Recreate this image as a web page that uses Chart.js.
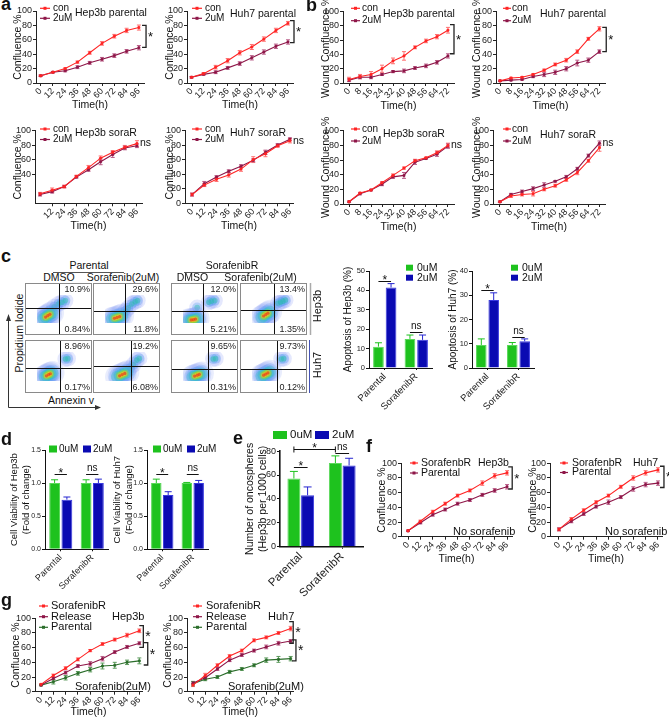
<!DOCTYPE html>
<html>
<head>
<meta charset="utf-8">
<title>Sorafenib resistance figure</title>
<script src="https://cdn.jsdelivr.net/npm/chart.js@4.4.1/dist/chart.umd.min.js"></script>
<style>
  html, body { margin: 0; padding: 0; background: #fff; }
  #fig { position: relative; width: 669px; height: 717px; overflow: hidden; background: #fff;
         font-family: "Liberation Sans", Arial, Helvetica, sans-serif; color: #111; }
  #fig canvas { position: absolute; }
  #deco { position: absolute; left: 0; top: 0; }
</style>
</head>
<body>
<div id="fig">
  <svg id="deco" width="669" height="717">
    <line x1="53" y1="272.5" x2="124" y2="272.5" stroke="#555" stroke-width="1"/>
    <line x1="184" y1="272.5" x2="263" y2="272.5" stroke="#555" stroke-width="1"/>
    <line x1="310.5" y1="283" x2="310.5" y2="335" stroke="#aaa" stroke-width="1.5"/>
    <line x1="309.5" y1="340" x2="309.5" y2="393" stroke="#4654b4" stroke-width="1"/>
    <path d="M8.5 407.5 V318 M8.5 407.5 H96" stroke="#333" stroke-width="1" fill="none"/>
    <path d="M6 321 L8.5 314 L11 321 Z M95 405 L101 407.5 L95 410 Z" fill="#333"/>
  </svg>
</div>
<script>
// time axes (hours)
const hours = [0, 12, 24, 36, 48, 60, 72, 84, 96];
const hoursNoZero = [12, 24, 36, 48, 60, 72, 84, 96];
const woundHours = [0, 8, 16, 24, 32, 40, 48, 56, 64, 72];
const pctTicks = [0, 20, 40, 60, 80, 100];
const pctTicksUpper = [40, 60, 80, 100];

// panel a: confluence %, con vs 2uM
const aHep3bParCon = [10, 15, 20, 29, 42, 55, 65, 73, 77];
const aHep3bParConErr = [1, 1, 1, 1.5, 2, 2.5, 2.5, 3, 3.5];
const aHep3bParDrug = [10, 15, 17, 22, 28, 33, 38, 44, 49];
const aHep3bParDrugErr = [1, 1, 1.5, 2, 2, 2.5, 2.5, 2.5, 3];
const aHuh7ParCon = [8, 13, 22, 31, 42, 50, 61, 73, 83];
const aHuh7ParConErr = [1, 1.5, 2.5, 3, 3, 3.5, 3, 3, 2.5];
const aHuh7ParDrug = [8, 12, 15, 21, 27, 35, 43, 51, 57];
const aHuh7ParDrugErr = [1, 1, 2, 2, 2.5, 3, 3, 3, 3];
const aHep3bSorCon = [13, 18, 23, 37, 49, 62, 70, 77, 82];
const aHep3bSorConErr = [2, 3, 2, 1.5, 3, 3, 2.5, 2.5, 4];
const aHep3bSorDrug = [12, 16, 23, 36, 46, 57, 67, 76, 79];
const aHep3bSorDrugErr = [2, 2, 1.5, 1.5, 2, 4, 4, 2.5, 2.5];
const aHuh7SorCon = [12, 25, 33, 39, 47, 60, 68, 79, 86];
const aHuh7SorConErr = [2, 2, 3, 3, 3, 4, 4, 2, 3];
const aHuh7SorDrug = [12, 27, 36, 44, 51, 59, 70, 80, 88];
const aHuh7SorDrugErr = [2, 3, 2, 2, 2, 2, 3, 2, 2];

// panel b: wound confluence %
const bHep3bParCon = [5, 9, 12, 20, 31, 38, 50, 59, 65, 74];
const bHep3bParConErr = [3, 3, 4, 5, 4, 6, 2, 2.5, 3, 4];
const bHep3bParDrug = [4, 8, 8, 12, 16, 17, 21, 24, 29, 38];
const bHep3bParDrugErr = [2, 2, 2, 1.5, 1.5, 2.5, 2, 2.5, 2.5, 3];
const bHuh7ParCon = [3, 7, 8, 12, 18, 26, 32, 44, 62, 76];
const bHuh7ParConErr = [1, 1, 1, 1, 1.5, 2, 2.5, 2.5, 2, 3];
const bHuh7ParDrug = [3, 4, 5, 9, 12, 15, 20, 28, 32, 44];
const bHuh7ParDrugErr = [1, 1, 1, 1.5, 3, 3, 3, 4, 3, 2.5];
const bHep3bSorCon = [3, 15, 19, 29, 39, 49, 59, 63, 70, 80];
const bHep3bSorConErr = [1, 1, 1, 1.5, 2, 1.5, 2, 1, 2.5, 3];
const bHep3bSorDrug = [3, 14, 19, 27, 37, 39, 57, 62, 68, 79];
const bHep3bSorDrugErr = [1, 1.5, 1, 2, 2, 4, 3, 1, 3, 3];
const bHuh7SorCon = [3, 11, 13, 14, 20, 25, 33, 43, 59, 77];
const bHuh7SorConErr = [1, 2, 2, 3, 2, 2, 2, 3, 2, 5];
const bHuh7SorDrug = [3, 13, 17, 21, 26, 31, 37, 48, 66, 83];
const bHuh7SorDrugErr = [1, 1.5, 2, 2.5, 3, 1, 2, 2, 2, 3];

// panel c: apoptosis (%)
const groups = ['Parental', 'SorafenibR'];
const apoHep3b0 = [11, 15];
const apoHep3b0Err = [2, 2];
const apoHep3b2 = [41.5, 14.5];
const apoHep3b2Err = [2, 2.5];
const apoHuh7_0 = [9.5, 9.5];
const apoHuh7_0Err = [2.5, 1];
const apoHuh7_2 = [28, 11];
const apoHuh7_2Err = [3, 1];

// panel c: flow cytometry quadrants (Hep3b row then Huh7 row)
const flowUpperPct = ['10.9%', '29.6%', '12.0%', '13.4%', '8.96%', '19.2%', '9.65%', '9.73%'];
const flowLowerPct = ['0.84%', '11.8%', '5.21%', '1.35%', '0.17%', '6.08%', '0.31%', '0.12%'];
const flowGateX = [51.5, 46, 46, 52, 53, 60, 58, 58];
const flowGateY = [52, 42, 42, 46, 45, 53, 43, 43];
// live-cell cluster (Annexin-/PI-), traced along its long axis
const flowLive = [
  [[15, 16], [20, 21], [25, 26], [30, 31], [35, 36]],
  [[16, 14], [22, 17], [28, 20], [34, 23], [40, 27]],
  [[14, 10], [19, 11], [24, 12], [29, 14], [34, 16]],
  [[22, 20], [27, 25], [32, 30], [37, 35], [42, 40]],
  [[18, 15], [22, 18], [27, 22], [31, 25], [36, 28]],
  [[28, 15], [34, 18], [40, 22], [46, 26], [52, 30]],
  [[22, 14], [27, 17], [33, 20], [38, 23], [44, 26]],
  [[22, 16], [27, 20], [32, 24], [37, 28], [42, 32]]
];
// dead / late apoptotic cluster (Annexin+/PI+)
const flowDead = [
  [[40, 58], [50, 68], [58, 74], [66, 80]],
  [[48, 44], [54, 54], [62, 68], [70, 76], [76, 80]],
  [[33, 55], [60, 74], [66, 78], [74, 80]],
  [[60, 70], [66, 74], [72, 78], [78, 82]],
  [[66, 76], [72, 77]],
  [[58, 44], [66, 56], [74, 72], [80, 78]],
  [[70, 76], [76, 77]],
  [[68, 76], [74, 77]]
];

// panel d: cell viability (fold of change)
const viaHep3b0 = [1.0, 1.0];
const viaHep3b0Err = [0.05, 0.05];
const viaHep3b2 = [0.75, 1.0];
const viaHep3b2Err = [0.04, 0.06];
const viaHuh7_0 = [1.0, 1.0];
const viaHuh7_0Err = [0.06, 0.01];
const viaHuh7_2 = [0.82, 1.0];
const viaHuh7_2Err = [0.05, 0.04];

// panel e: oncospheres per 1000 cells
const sphere0 = [57, 70];
const sphere0Err = [6, 6];
const sphere2 = [43, 68];
const sphere2Err = [7, 6];

// panel f: no sorafenib
const fHep3bSor = [8, 21, 34, 45, 56, 63, 73, 83, 87];
const fHep3bSorErr = [1, 1.5, 2, 2, 2, 2, 3, 3, 3];
const fHep3bPar = [8, 19, 30, 37, 45, 50, 57, 63, 68];
const fHep3bParErr = [1, 1.5, 2, 2, 2, 2, 2, 2.5, 3];
const fHuh7Sor = [10, 24, 36, 47, 56, 68, 80, 87, 91];
const fHuh7SorErr = [2, 2, 2, 2, 2, 2, 3, 3, 3];
const fHuh7Par = [10, 21, 31, 41, 47, 54, 65, 71, 73];
const fHuh7ParErr = [2, 2, 2, 2, 3, 2, 3, 3, 3];

// panel g: sorafenib 2uM
const gHep3bSor = [10, 22, 32, 44, 56, 65, 71, 77, 83];
const gHep3bSorErr = [1, 2, 2, 2, 1.5, 2, 2, 2.5, 2.5];
const gHep3bRel = [9, 18, 26, 35, 38, 45, 54, 61, 66];
const gHep3bRelErr = [1, 2, 2, 2, 3, 3, 2, 2, 2];
const gHep3bPar = [9, 13.5, 19, 25, 30, 35, 36, 40, 42];
const gHep3bParErr = [1, 3, 3, 2.5, 3, 4, 4, 3, 4];
const gHuh7Sor = [9, 22, 36, 48.5, 56, 70, 74, 80, 86];
const gHuh7SorErr = [2, 3, 2, 2, 2, 2, 2, 2, 3];
const gHuh7Rel = [12, 19, 31, 43, 50, 56, 61, 66, 69];
const gHuh7RelErr = [2, 2, 2, 2, 2, 2, 2.5, 2.5, 2];
const gHuh7Par = [11, 17, 20, 27, 31, 36, 43, 44, 45];
const gHuh7ParErr = [3, 2, 2, 2, 2, 2, 3, 4, 3];

// ---------------- styling / helpers ----------------
const FONT = '"Liberation Sans", Arial, Helvetica, sans-serif';
const RED = '#ff2424', PLUM = '#8e1648', DKGREEN = '#2b6e2b';
const RED_E = '#ff7070', PLUM_E = '#b85a86', DKGREEN_E = '#5c9a5c';
const GREEN = '#1ec21e', BLUE = '#0a0ab2';
Chart.defaults.font.family = FONT;
Chart.defaults.color = '#222';

const fig = document.getElementById('fig');

function canvasAt(x, y, w, h) {
  const c = document.createElement('canvas');
  c.width = w; c.height = h;
  c.style.left = x + 'px'; c.style.top = y + 'px';
  c.style.width = w + 'px'; c.style.height = h + 'px';
  fig.appendChild(c);
  return c;
}

function addText(t, x, y, o = {}) {
  const d = document.createElement('div');
  d.textContent = t;
  const tx = o.center ? '-50%' : '0';
  d.style.cssText = 'position:absolute;left:' + x + 'px;top:' + y + 'px;font-size:' + (o.size || 10.5) +
    'px;line-height:1;white-space:nowrap;font-weight:' + (o.bold ? 'bold' : 'normal') +
    ';transform:translate(' + tx + ',-50%)' + (o.rot ? ' rotate(' + o.rot + 'deg)' : '') + ';';
  fig.appendChild(d);
}

// error bars, legends, brackets and labels
const extras = {
  id: 'extras',
  beforeDatasetsDraw(chart, args, o) {
    const ctx = chart.ctx, ys = chart.scales.y;
    const isBar = chart.config.type === 'bar';
    ctx.save();
    ctx.lineWidth = 1;
    chart.data.datasets.forEach((ds, di) => {
      if (!ds.err) return;
      const meta = chart.getDatasetMeta(di);
      ctx.strokeStyle = ds.errColor || ds.borderColor;
      meta.data.forEach((el, i) => {
        const raw = ds.data[i];
        const v = typeof raw === 'object' ? raw.y : raw;
        const e = ds.err[i];
        const yT = ys.getPixelForValue(v + e);
        const yB = isBar ? el.y : ys.getPixelForValue(v - e);
        const c = isBar ? (o.cap || 3.5) : 2;
        ctx.beginPath();
        ctx.moveTo(el.x, yT); ctx.lineTo(el.x, yB);
        ctx.moveTo(el.x - c, yT); ctx.lineTo(el.x + c, yT);
        if (!isBar) { ctx.moveTo(el.x - c, yB); ctx.lineTo(el.x + c, yB); }
        ctx.stroke();
      });
    });
    ctx.restore();
  },
  afterDraw(chart, args, o) {
    const ctx = chart.ctx, ox = o.ox, oy = o.oy;
    const xs = chart.scales.x, ys = chart.scales.y;
    const font = s => s + 'px ' + FONT;
    ctx.save();
    ctx.textBaseline = 'middle';
    (o.texts || []).forEach(t => {
      ctx.font = font(t.size || 10.5);
      ctx.fillStyle = '#111';
      ctx.textAlign = t.align || 'left';
      ctx.fillText(t.t, t.x - ox, t.y - oy);
    });
    if (o.lineLegend) {
      const L = o.lineLegend;
      chart.data.datasets.forEach((ds, i) => {
        const y = L.ys[i] - oy, x = L.x - ox;
        ctx.strokeStyle = ds.borderColor; ctx.lineWidth = 1.2;
        ctx.beginPath(); ctx.moveTo(x, y); ctx.lineTo(x + L.len, y); ctx.stroke();
        ctx.fillStyle = ds.borderColor;
        ctx.fillRect(x + L.len / 2 - 1.5, y - 1.5, 3, 3);
        ctx.fillStyle = '#111'; ctx.font = font(L.size); ctx.textAlign = 'left';
        ctx.fillText(ds.label, L.tx - ox, y);
      });
    }
    if (o.boxLegend) {
      const B = o.boxLegend;
      chart.data.datasets.forEach((ds, i) => {
        const it = B.items[i];
        ctx.fillStyle = ds.backgroundColor;
        ctx.fillRect(it.x - ox, it.y - oy - B.h / 2, B.w, B.h);
        ctx.fillStyle = '#111'; ctx.font = font(B.size); ctx.textAlign = 'left';
        ctx.fillText(ds.label, it.tx - ox, it.y - oy);
      });
    }
    (o.brackets || []).forEach(b => {
      const x = xs.getPixelForValue(b.x), y1 = ys.getPixelForValue(b.y1), y2 = ys.getPixelForValue(b.y2);
      ctx.strokeStyle = '#222'; ctx.lineWidth = 1.3;
      ctx.beginPath();
      ctx.moveTo(x - 4, y1); ctx.lineTo(x, y1); ctx.lineTo(x, y2); ctx.lineTo(x - 4, y2);
      ctx.stroke();
      ctx.fillStyle = '#111'; ctx.font = font(b.size || 13); ctx.textAlign = 'left';
      ctx.fillText(b.t, x + 2, (y1 + y2) / 2 + 1);
    });
    (o.tags || []).forEach(t => {
      ctx.fillStyle = '#111'; ctx.font = font(t.size || 10.5); ctx.textAlign = 'left';
      ctx.fillText(t.t, xs.getPixelForValue(t.x) + t.dx, ys.getPixelForValue(t.y));
    });
    (o.sigs || []).forEach(s => {
      const xa = chart.getDatasetMeta(s.a[0]).data[s.a[1]].x;
      const xb = chart.getDatasetMeta(s.b[0]).data[s.b[1]].x;
      const y = Math.round(ys.getPixelForValue(s.y)) + 0.5;
      ctx.strokeStyle = '#111'; ctx.lineWidth = 1;
      ctx.beginPath(); ctx.moveTo(xa, y); ctx.lineTo(xb, y);
      if (s.ends) { ctx.moveTo(xa, y - 3); ctx.lineTo(xa, y + 3); ctx.moveTo(xb, y - 3); ctx.lineTo(xb, y + 3); }
      ctx.stroke();
      ctx.fillStyle = '#111'; ctx.textAlign = 'center';
      if (s.t === '*') { ctx.font = font(s.size || 12); ctx.fillText('*', (xa + xb) / 2, y - 1); }
      else { ctx.font = font(s.size || 10); ctx.fillText(s.t, (xa + xb) / 2, y - 6); }
    });
    ctx.restore();
  }
};

function lineChart(g) {
  const left = Math.round(g.cl), top = Math.round(g.yTop - 20);
  const right = Math.round(g.x1 + 24), bottom = Math.round(g.cb + 1.5);
  const cv = canvasAt(left, top, right - left, bottom - top);
  return new Chart(cv, {
    type: 'line',
    data: {
      datasets: g.series.map(s => ({
        label: s.label,
        data: g.xs.map((x, i) => ({ x: x, y: s.ys[i] })),
        err: s.err, errColor: s.errColor,
        borderColor: s.color, backgroundColor: s.color,
        borderWidth: 1.1, pointStyle: 'rect', pointRadius: 1.4, pointBorderWidth: 0.8, tension: 0
      }))
    },
    options: {
      responsive: false, animation: false, events: [],
      layout: { padding: { left: 0, top: g.yTop - top, right: right - g.x1, bottom: 0 } },
      plugins: {
        legend: { display: false }, tooltip: { enabled: false },
        extras: { ox: left, oy: top, texts: g.texts, lineLegend: g.legend, brackets: g.brackets, tags: g.tags }
      },
      scales: {
        x: {
          type: 'linear', min: g.xMin, max: g.xMax,
          afterBuildTicks: s => { s.ticks = g.xTicks.map(v => ({ value: v })); },
          afterFit: s => { s.height = bottom - g.yBot; },
          border: { color: '#222', width: 1 },
          grid: { drawOnChartArea: false, tickLength: 3, color: '#222' },
          ticks: { minRotation: 45, maxRotation: 45, autoSkip: false, padding: 0, color: '#222', font: { size: 9 } },
          title: { display: true, text: 'Time(h)', color: '#111', font: { size: 10.5 }, padding: 0 }
        },
        y: {
          min: 0, max: 100,
          afterBuildTicks: s => { s.ticks = g.yTicks.map(v => ({ value: v })); },
          afterFit: s => { s.width = g.x0 - left; },
          border: { color: '#222', width: 1 },
          grid: { drawOnChartArea: false, tickLength: 3, color: '#222' },
          ticks: { padding: 1, color: '#222', font: { size: 9 } },
          title: { display: true, text: g.yTitle, color: '#111', font: { size: 10.5 }, padding: 0 }
        }
      }
    },
    plugins: [extras]
  });
}

function barChart(g) {
  const left = Math.round(g.cl), top = Math.round(g.yTop - 24);
  const right = Math.round(g.x1 + 34), bottom = Math.round(g.cb);
  const cv = canvasAt(left, top, right - left, bottom - top);
  return new Chart(cv, {
    type: 'bar',
    data: {
      labels: groups,
      datasets: g.series.map(s => ({
        label: s.label, data: s.ys, err: s.err, errColor: s.errColor,
        backgroundColor: s.color, borderColor: s.border, borderWidth: 1,
        categoryPercentage: g.catPct, barPercentage: g.barPct
      }))
    },
    options: {
      responsive: false, animation: false, events: [],
      layout: { padding: { left: 0, top: g.yTop - top, right: right - g.x1, bottom: 0 } },
      plugins: {
        legend: { display: false }, tooltip: { enabled: false },
        extras: { ox: left, oy: top, boxLegend: g.legend, sigs: g.sigs, cap: g.cap }
      },
      scales: {
        x: {
          type: 'category', offset: true,
          afterFit: s => { s.height = bottom - g.yBot; },
          border: { color: '#111', width: g.axisW || 1 },
          grid: { offset: false, drawOnChartArea: false, tickLength: 2, color: '#111' },
          ticks: { minRotation: 45, maxRotation: 45, autoSkip: false, padding: 1, color: '#222', font: { size: g.xTickSize } }
        },
        y: {
          min: 0, max: g.yTicks[g.yTicks.length - 1],
          afterBuildTicks: s => { s.ticks = g.yTicks.map(v => ({ value: v })); },
          afterFit: s => { s.width = g.x0 - left; },
          border: { color: '#111', width: g.axisW || 1 },
          grid: { drawOnChartArea: false, tickLength: 3, color: '#111' },
          ticks: { padding: 1, color: '#222', font: { size: g.yTickSize }, callback: g.yFmt || (v => String(v)) },
          title: { display: true, text: g.yTitle, color: '#111', font: { size: g.titleSize }, padding: 0 }
        }
      }
    },
    plugins: [extras]
  });
}

// flow cytometry boxes
const flowDeco = {
  id: 'flowDeco',
  afterDraw(chart, args, o) {
    const { ctx, width: w, height: h } = chart;
    const gx = Math.round(chart.scales.x.getPixelForValue(o.gx)) + 0.5;
    const gy = Math.round(chart.scales.y.getPixelForValue(o.gy)) + 0.5;
    ctx.save();
    ctx.strokeStyle = '#111'; ctx.lineWidth = 1;
    ctx.beginPath(); ctx.moveTo(gx, 0); ctx.lineTo(gx, h); ctx.moveTo(0, gy); ctx.lineTo(w, gy); ctx.stroke();
    ctx.strokeStyle = '#8a8a8a';
    ctx.strokeRect(0.5, 0.5, w - 1, h - 1);
    ctx.fillStyle = '#222'; ctx.font = '9px ' + FONT; ctx.textAlign = 'right'; ctx.textBaseline = 'middle';
    ctx.fillText(o.ur, w - 2, 7);
    ctx.fillText(o.lr, w - 2, h - 5);
    ctx.restore();
  }
};
// density layers: halo to core; core layers use only the inner points of the cluster
const liveLayers = [
  { r: 12, c: 'rgba(120,140,245,0.16)' }, { r: 8.5, c: 'rgba(80,150,240,0.22)' },
  { r: 6, c: 'rgba(40,200,190,0.3)' }, { r: 4, c: 'rgba(150,220,40,0.45)', core: true },
  { r: 2.6, c: 'rgba(250,190,30,0.55)', core: true }, { r: 1.6, c: 'rgba(235,40,30,0.6)', core: true }
];
const deadLayers = [
  { r: 8, c: 'rgba(120,140,245,0.2)' }, { r: 5, c: 'rgba(70,150,240,0.3)' }, { r: 2.8, c: 'rgba(40,190,170,0.45)' }
];
function flowBox(i, x, y, w, h) {
  const cv = canvasAt(x, y, w, h);
  const sets = [];
  const live = flowLive[i];
  deadLayers.forEach(L => sets.push({ data: flowDead[i].map(p => ({ x: p[0], y: p[1], r: L.r })), backgroundColor: L.c, borderWidth: 0 }));
  liveLayers.forEach(L => {
    const pts = L.core ? live.slice(1, live.length - 1) : live;
    sets.push({ data: pts.map(p => ({ x: p[0], y: p[1], r: L.r })), backgroundColor: L.c, borderWidth: 0 });
  });
  new Chart(cv, {
    type: 'bubble',
    data: { datasets: sets.reverse() },
    options: {
      responsive: false, animation: false, events: [],
      layout: { padding: 0 },
      plugins: { legend: { display: false }, tooltip: { enabled: false },
        flowDeco: { gx: flowGateX[i], gy: flowGateY[i], ur: flowUpperPct[i], lr: flowLowerPct[i] } },
      scales: { x: { display: false, min: 0, max: 100 }, y: { display: false, min: 0, max: 100 } }
    },
    plugins: [flowDeco]
  });
}

// ---------------- panel a ----------------
const conDrug = (c, ce, d, de) => [
  { label: 'con', ys: c, err: ce, color: RED, errColor: RED_E },
  { label: '2uM', ys: d, err: de, color: PLUM, errColor: PLUM_E }
];
lineChart({ xs: hours, xTicks: hours, yTicks: pctTicks, x0: 36, x1: 144, yTop: 11, yBot: 83, cl: 11.7, cb: 109.3,
  xMin: -4.5, xMax: 101, yTitle: 'Confluence %',
  series: conDrug(aHep3bParCon, aHep3bParConErr, aHep3bParDrug, aHep3bParDrugErr),
  legend: { x: 40, tx: 53, ys: [8.3, 18.3], len: 10, size: 10 },
  texts: [{ t: 'Hep3b parental', x: 75, y: 13 }],
  brackets: [{ x: 103, y1: 80, y2: 49.5, t: '*' }] });
lineChart({ xs: hours, xTicks: hours, yTicks: pctTicks, x0: 187, x1: 293, yTop: 11, yBot: 83, cl: 163.7, cb: 109.3,
  xMin: -4.5, xMax: 101, yTitle: 'Confluence %',
  series: conDrug(aHuh7ParCon, aHuh7ParConErr, aHuh7ParDrug, aHuh7ParDrugErr),
  legend: { x: 192, tx: 205, ys: [8.3, 18.3], len: 10, size: 10 },
  texts: [{ t: 'Huh7 parental', x: 230, y: 14 }],
  brackets: [{ x: 102, y1: 86.5, y2: 56, t: '*' }] });
lineChart({ xs: hours, xTicks: hoursNoZero, yTicks: pctTicksUpper, x0: 35, x1: 142, yTop: 130.5, yBot: 203.3, cl: 11.7, cb: 230.8,
  xMin: -5, xMax: 101, yTitle: 'Confluence %',
  series: conDrug(aHep3bSorCon, aHep3bSorConErr, aHep3bSorDrug, aHep3bSorDrugErr),
  legend: { x: 40, tx: 53, ys: [129, 139.5], len: 10, size: 10 },
  texts: [{ t: 'Hep3b soraR', x: 75, y: 133 }],
  tags: [{ x: 96, y: 82, t: 'ns', dx: 3 }] });
lineChart({ xs: hours, xTicks: hours, yTicks: pctTicks, x0: 185, x1: 293, yTop: 130.5, yBot: 203.3, cl: 163.7, cb: 230.8,
  xMin: -6.9, xMax: 99, yTitle: 'Confluence %',
  series: conDrug(aHuh7SorCon, aHuh7SorConErr, aHuh7SorDrug, aHuh7SorDrugErr),
  legend: { x: 192, tx: 205, ys: [129, 139.5], len: 10, size: 10 },
  texts: [{ t: 'Huh7 soraR', x: 230, y: 133 }],
  tags: [{ x: 96, y: 86, t: 'ns', dx: 3 }] });

// ---------------- panel b ----------------
lineChart({ xs: woundHours, xTicks: woundHours, yTicks: pctTicks, x0: 343, x1: 454, yTop: 11.7, yBot: 83, cl: 319.7, cb: 110.3,
  xMin: -4.4, xMax: 76.4, yTitle: 'Wound Confluence %',
  series: conDrug(bHep3bParCon, bHep3bParConErr, bHep3bParDrug, bHep3bParDrugErr),
  legend: { x: 351, tx: 362, ys: [8.3, 20.7], len: 9, size: 10 },
  texts: [{ t: 'Hep3b parental', x: 383, y: 14 }],
  brackets: [{ x: 76.4, y1: 82, y2: 41, t: '*' }] });
lineChart({ xs: woundHours, xTicks: woundHours, yTicks: pctTicks, x0: 496, x1: 605, yTop: 11.7, yBot: 83, cl: 470.7, cb: 110.3,
  xMin: -2.9, xMax: 76.1, yTitle: 'Wound Confluence %',
  series: conDrug(bHuh7ParCon, bHuh7ParConErr, bHuh7ParDrug, bHuh7ParDrugErr),
  legend: { x: 503, tx: 512, ys: [8.3, 20.7], len: 8, size: 10 },
  texts: [{ t: 'Huh7 parental', x: 540, y: 14 }],
  brackets: [{ x: 77, y1: 78, y2: 44, t: '*' }] });
lineChart({ xs: woundHours, xTicks: woundHours, yTicks: pctTicks, x0: 343, x1: 454, yTop: 130.7, yBot: 204, cl: 319.7, cb: 231.3,
  xMin: -4.4, xMax: 76.4, yTitle: 'Wound Confluence %',
  series: conDrug(bHep3bSorCon, bHep3bSorConErr, bHep3bSorDrug, bHep3bSorDrugErr),
  legend: { x: 351, tx: 362, ys: [129, 141], len: 9, size: 10 },
  texts: [{ t: 'Hep3b soraR', x: 383, y: 134 }],
  tags: [{ x: 72, y: 80, t: 'ns', dx: 3 }] });
lineChart({ xs: woundHours, xTicks: woundHours, yTicks: pctTicks, x0: 493, x1: 605, yTop: 130.7, yBot: 204, cl: 470.7, cb: 231.3,
  xMin: -5, xMax: 76, yTitle: 'Wound Confluence %',
  series: conDrug(bHuh7SorCon, bHuh7SorConErr, bHuh7SorDrug, bHuh7SorDrugErr),
  legend: { x: 503, tx: 512, ys: [129, 141], len: 8, size: 10 },
  texts: [{ t: 'Huh7 soraR', x: 540, y: 135 }],
  tags: [{ x: 72, y: 83, t: 'ns', dx: 3 }] });

// ---------------- panel c ----------------
const flowBoxX = [25, 93, 171, 240];
flowBoxX.forEach((x, c) => {
  flowBox(c, x, 283, 67, 52);
  flowBox(c + 4, x, 340, 67, 53);
});
const doseSeries = (a, ae, b, be) => [
  { label: '0uM', ys: a, err: ae, color: GREEN, border: '#5ad85a', errColor: GREEN },
  { label: '2uM', ys: b, err: be, color: BLUE, border: '#3a3ae0', errColor: '#2525d0' }
];
barChart({ x0: 369, x1: 432, yTop: 271, yBot: 368, cl: 342, cb: 420, yTicks: [0, 10, 20, 30, 40, 50],
  yTitle: 'Apoptosis of Hep3b (%)', titleSize: 10, yTickSize: 7.5, xTickSize: 9.5, catPct: 0.8, barPct: 0.85, cap: 3.5,
  series: doseSeries(apoHep3b0, apoHep3b0Err, apoHep3b2, apoHep3b2Err),
  legend: { items: [{ x: 406, tx: 417, y: 267.7 }, { x: 406, tx: 417, y: 277.7 }], w: 7, h: 6, size: 10.5 },
  sigs: [{ a: [0, 0], b: [1, 0], y: 45, t: '*' }, { a: [0, 1], b: [1, 1], y: 18.6, t: 'ns' }] });
barChart({ x0: 472, x1: 534, yTop: 271, yBot: 368, cl: 446.7, cb: 420, yTicks: [0, 10, 20, 30, 40],
  yTitle: 'Apoptosis of Huh7 (%)', titleSize: 10, yTickSize: 7.5, xTickSize: 9.5, catPct: 0.8, barPct: 0.85, cap: 3.5,
  series: doseSeries(apoHuh7_0, apoHuh7_0Err, apoHuh7_2, apoHuh7_2Err),
  legend: { items: [{ x: 511, tx: 522, y: 267.7 }, { x: 511, tx: 522, y: 277.7 }], w: 7, h: 6, size: 10.5 },
  sigs: [{ a: [0, 0], b: [1, 0], y: 32, t: '*' }, { a: [0, 1], b: [1, 1], y: 12.8, t: 'ns' }] });

addText('Parental', 89, 265, { center: true });
addText('SorafenibR', 232, 265, { center: true });
addText('DMSO', 59, 276.5, { center: true });
addText('Sorafenib(2uM)', 123, 276.5, { center: true });
addText('DMSO', 192.5, 276.5, { center: true });
addText('Sorafenib(2uM)', 260.5, 276.5, { center: true });
addText('Hep3b', 316.5, 306, { center: true, rot: -90, size: 11 });
addText('Huh7', 316.5, 365, { center: true, rot: -90, size: 11 });
addText('Propidium Iodide', 18.5, 333, { center: true, rot: -90 });
addText('Annexin v', 71, 400, { center: true });

// ---------------- panel d ----------------
const fmt1 = v => v.toFixed(1);
barChart({ x0: 45, x1: 108, yTop: 450, yBot: 549.3, cl: 9.3, cb: 598, yTicks: [0, 0.5, 1, 1.5], yFmt: fmt1,
  yTitle: ['Cell Viability of Hep3b', '(Fold of change)'], titleSize: 9.5, yTickSize: 7, xTickSize: 9, catPct: 0.78, barPct: 0.88, cap: 3.5,
  series: doseSeries(viaHep3b0, viaHep3b0Err, viaHep3b2, viaHep3b2Err),
  legend: { items: [{ x: 49, tx: 59, y: 449 }, { x: 83, tx: 93, y: 449 }], w: 8, h: 7, size: 10 },
  sigs: [{ a: [0, 0], b: [1, 0], y: 1.13, t: '*' }, { a: [0, 1], b: [1, 1], y: 1.13, t: 'ns' }] });
barChart({ x0: 147, x1: 208, yTop: 450, yBot: 549.3, cl: 112.3, cb: 598, yTicks: [0, 0.5, 1, 1.5], yFmt: fmt1,
  yTitle: ['Cell Viability of Huh7', '(Fold of change)'], titleSize: 9.5, yTickSize: 7, xTickSize: 9, catPct: 0.78, barPct: 0.88, cap: 3.5,
  series: doseSeries(viaHuh7_0, viaHuh7_0Err, viaHuh7_2, viaHuh7_2Err),
  legend: { items: [{ x: 153, tx: 163, y: 449 }, { x: 187, tx: 197, y: 449 }], w: 8, h: 7, size: 10 },
  sigs: [{ a: [0, 0], b: [1, 0], y: 1.13, t: '*' }, { a: [0, 1], b: [1, 1], y: 1.13, t: 'ns' }] });

// ---------------- panel e ----------------
barChart({ x0: 280, x1: 363, yTop: 451.1, yBot: 546.7, cl: 243.7, cb: 615, yTicks: [0, 20, 40, 60, 80],
  yTitle: ['Number of oncospheres', '(Hep3b per 1000 cells)'], titleSize: 10.5, yTickSize: 9, xTickSize: 11.5,
  catPct: 0.66, barPct: 0.95, cap: 4, axisW: 1.6,
  series: doseSeries(sphere0, sphere0Err, sphere2, sphere2Err),
  legend: { items: [{ x: 273, tx: 290, y: 435 }, { x: 315, tx: 332, y: 435 }], w: 14, h: 8, size: 11.5 },
  sigs: [{ a: [0, 0], b: [0, 1], y: 81.6, t: '*', ends: true }, { a: [0, 1], b: [1, 1], y: 78, t: 'ns' },
         { a: [0, 0], b: [1, 0], y: 66.7, t: '*' }] });

// ---------------- panel f ----------------
const sorPar = (s, se, p, pe) => [
  { label: 'SorafenbR', ys: s, err: se, color: RED, errColor: RED_E },
  { label: 'Parental', ys: p, err: pe, color: PLUM, errColor: PLUM_E }
];
lineChart({ xs: hours, xTicks: hours, yTicks: pctTicks, x0: 401, x1: 512, yTop: 463.3, yBot: 536.7, cl: 375.7, cb: 563.3,
  xMin: -6.8, xMax: 100.8, yTitle: 'Confluence %',
  series: sorPar(fHep3bSor, fHep3bSorErr, fHep3bPar, fHep3bParErr),
  legend: { x: 410, tx: 421, ys: [463, 473], len: 8, size: 10.5 },
  texts: [{ t: 'Hep3b', x: 478, y: 463 }, { t: 'No sorafenib', x: 453, y: 531.7, size: 11 }],
  brackets: [{ x: 101, y1: 95, y2: 65, t: '*' }] });
lineChart({ xs: hours, xTicks: hours, yTicks: pctTicks, x0: 550, x1: 662, yTop: 463.3, yBot: 536.7, cl: 526.7, cb: 563.3,
  xMin: -8.7, xMax: 99.9, yTitle: 'Confluence %',
  series: sorPar(fHuh7Sor, fHuh7SorErr, fHuh7Par, fHuh7ParErr),
  legend: { x: 560, tx: 572, ys: [463, 472.5], len: 8, size: 10.5 },
  texts: [{ t: 'Huh7', x: 633, y: 463 }, { t: 'No sorafenib', x: 605, y: 531.7, size: 11 }],
  brackets: [{ x: 101.8, y1: 96, y2: 67, t: '*' }] });

// ---------------- panel g ----------------
const threeLines = (s, se, r, re, p, pe) => [
  { label: 'SorafenibR', ys: s, err: se, color: RED, errColor: RED_E },
  { label: 'Release', ys: r, err: re, color: PLUM, errColor: PLUM_E },
  { label: 'Parental', ys: p, err: pe, color: DKGREEN, errColor: DKGREEN_E }
];
lineChart({ xs: hours, xTicks: hours, yTicks: pctTicks, x0: 35, x1: 142, yTop: 618.3, yBot: 691.7, cl: 9.7, cb: 716.5,
  xMin: -5.9, xMax: 98.6, yTitle: 'Confluence %',
  series: threeLines(gHep3bSor, gHep3bSorErr, gHep3bRel, gHep3bRelErr, gHep3bPar, gHep3bParErr),
  legend: { x: 39, tx: 51, ys: [606, 616.7, 627.3], len: 9, size: 11 },
  texts: [{ t: 'Hep3b', x: 112, y: 616.7, size: 11 }, { t: 'Sorafenib(2uM)', x: 75, y: 686.7, size: 11 }],
  brackets: [{ x: 99.9, y1: 90, y2: 60.5, t: '*', size: 14 }, { x: 104.2, y1: 66.8, y2: 36.4, t: '*', size: 14 }] });
lineChart({ xs: hours, xTicks: hours, yTicks: pctTicks, x0: 187, x1: 293, yTop: 618.3, yBot: 691.7, cl: 161.7, cb: 716.5,
  xMin: -5.9, xMax: 98.3, yTitle: 'Confluence %',
  series: threeLines(gHuh7Sor, gHuh7SorErr, gHuh7Rel, gHuh7RelErr, gHuh7Par, gHuh7ParErr),
  legend: { x: 193, tx: 206, ys: [606, 616.7, 627.3], len: 9, size: 11 },
  texts: [{ t: 'Huh7', x: 268, y: 616.7, size: 11 }, { t: 'Sorafenib(2uM)', x: 228, y: 686.7, size: 11 }],
  brackets: [{ x: 98.5, y1: 95.5, y2: 66, t: '*', size: 14 }, { x: 101.2, y1: 70.5, y2: 41.9, t: '*', size: 14 }] });

// panel letters
addText('a', 1, 4, { bold: true, size: 18 });
addText('b', 306, 5, { bold: true, size: 18 });
addText('c', 1, 256, { bold: true, size: 18 });
addText('d', 1, 439, { bold: true, size: 18 });
addText('e', 233, 438, { bold: true, size: 18 });
addText('f', 366, 446, { bold: true, size: 18 });
addText('g', 1, 600, { bold: true, size: 18 });
</script>
</body>
</html>
